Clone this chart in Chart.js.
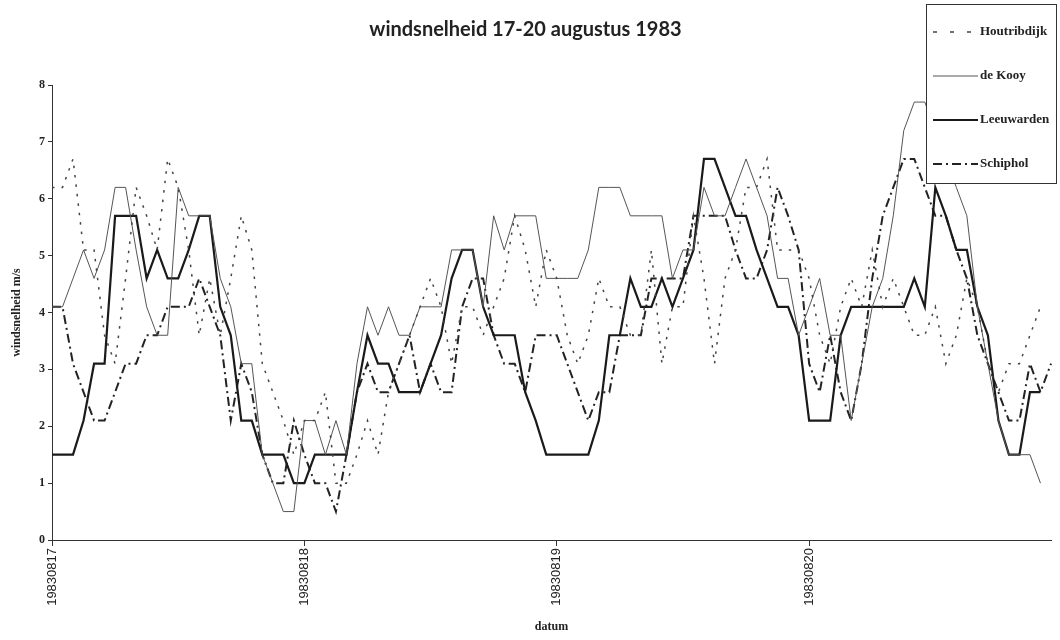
<!DOCTYPE html>
<html>
<head>
<meta charset="utf-8">
<script src="https://cdn.jsdelivr.net/npm/chart.js@4/dist/chart.umd.min.js"></script>
<style>
  html, body { margin: 0; padding: 0; background: #fff; }
  #wrap { width: 1060px; height: 640px; }
</style>
</head>
<body>
<div id="wrap"><canvas id="windChart" width="1060" height="640"></canvas></div>
<script>
// days shown on the x axis, hourly readings per day
const days = ["19830817", "19830818", "19830819", "19830820"];
const hoursOfDay = ["00","01","02","03","04","05","06","07","08","09","10","11",
                    "12","13","14","15","16","17","18","19","20","21","22","23"];
const yTicks = [0, 1, 2, 3, 4, 5, 6, 7, 8];

// wind speed in m/s, one value per hour
const houtribdijk = [
  6.2, 6.2, 6.7, 5.1, 5.1, 3.6, 3.1, 4.6, 6.2, 5.7,
  5.1, 6.7, 6.2, 5.1, 3.6, 4.6, 3.6, 4.6, 5.7, 5.1,
  3.1, 2.6, 2.1, 1.5, 2.1, 2.1, 2.6, 1.0, 1.0, 1.5,
  2.1, 1.5, 2.6, 3.1, 3.6, 4.1, 4.6, 4.1, 3.1, 4.1,
  4.1, 3.6, 4.1, 4.6, 5.7, 5.1, 4.1, 5.1, 4.6, 3.6,
  3.1, 3.6, 4.6, 4.1, 4.1, 3.6, 3.6, 5.1, 3.1, 4.1,
  4.1, 5.7, 4.6, 3.1, 4.6, 5.1, 6.2, 6.2, 6.7, 5.1,
  5.1, 5.1, 4.6, 3.6, 3.1, 4.1, 4.6, 4.1, 5.1, 4.1,
  4.6, 4.1, 3.6, 3.6, 4.1, 3.1, 3.6, 4.6, 4.1, 3.1,
  2.6, 3.1, 3.1, 3.6, 4.1, null
];
const deKooy = [
  4.1, 4.1, 4.6, 5.1, 4.6, 5.1, 6.2, 6.2, 5.1, 4.1,
  3.6, 3.6, 6.2, 5.7, 5.7, 5.7, 4.6, 4.1, 3.1, 3.1,
  1.5, 1.0, 0.5, 0.5, 2.1, 2.1, 1.5, 2.1, 1.5, 3.1,
  4.1, 3.6, 4.1, 3.6, 3.6, 4.1, 4.1, 4.1, 5.1, 5.1,
  5.1, 4.1, 5.7, 5.1, 5.7, 5.7, 5.7, 4.6, 4.6, 4.6,
  4.6, 5.1, 6.2, 6.2, 6.2, 5.7, 5.7, 5.7, 5.7, 4.6,
  5.1, 5.1, 6.2, 5.7, 5.7, 6.2, 6.7, 6.2, 5.7, 4.6,
  4.6, 3.6, 4.1, 4.6, 3.6, 3.6, 2.1, 3.1, 4.1, 4.6,
  5.7, 7.2, 7.7, 7.7, 7.2, 6.7, 6.2, 5.7, 4.1, 3.1,
  2.1, 1.5, 1.5, 1.5, 1.0, null
];
const leeuwarden = [
  1.5, 1.5, 1.5, 2.1, 3.1, 3.1, 5.7, 5.7, 5.7, 4.6,
  5.1, 4.6, 4.6, 5.1, 5.7, 5.7, 4.1, 3.6, 2.1, 2.1,
  1.5, 1.5, 1.5, 1.0, 1.0, 1.5, 1.5, 1.5, 1.5, 2.6,
  3.6, 3.1, 3.1, 2.6, 2.6, 2.6, 3.1, 3.6, 4.6, 5.1,
  5.1, 4.1, 3.6, 3.6, 3.6, 2.6, 2.1, 1.5, 1.5, 1.5,
  1.5, 1.5, 2.1, 3.6, 3.6, 4.6, 4.1, 4.1, 4.6, 4.1,
  4.6, 5.1, 6.7, 6.7, 6.2, 5.7, 5.7, 5.1, 4.6, 4.1,
  4.1, 3.6, 2.1, 2.1, 2.1, 3.6, 4.1, 4.1, 4.1, 4.1,
  4.1, 4.1, 4.6, 4.1, 6.2, 5.7, 5.1, 5.1, 4.1, 3.6,
  2.1, 1.5, 1.5, 2.6, 2.6, null
];
const schiphol = [
  4.1, 4.1, 3.1, 2.6, 2.1, 2.1, 2.6, 3.1, 3.1, 3.6,
  3.6, 4.1, 4.1, 4.1, 4.6, 4.1, 3.6, 2.1, 3.1, 2.6,
  1.5, 1.0, 1.0, 2.1, 1.5, 1.0, 1.0, 0.5, 1.5, 2.6,
  3.1, 2.6, 2.6, 3.1, 3.6, 2.6, 3.1, 2.6, 2.6, 4.1,
  4.6, 4.6, 3.6, 3.1, 3.1, 2.6, 3.6, 3.6, 3.6, 3.1,
  2.6, 2.1, 2.6, 2.6, 3.6, 3.6, 3.6, 4.6, 4.6, 4.6,
  4.6, 5.7, 5.7, 5.7, 5.7, 5.1, 4.6, 4.6, 5.1, 6.2,
  5.7, 5.1, 3.1, 2.6, 3.6, 2.6, 2.1, 3.1, 4.6, 5.7,
  6.2, 6.7, 6.7, 6.2, 5.7, 5.7, 5.1, 4.6, 3.6, 3.1,
  2.6, 2.1, 2.1, 3.1, 2.6, 3.1
];

const hourLabels = days.flatMap(d => hoursOfDay.map(h => d + " " + h));

// boxed legend that sits over the top right corner of the plot
const legendBox = {
  id: "legendBox",
  afterDraw(chart) {
    const ctx = chart.ctx;
    const bx = 926, by = 4, bw = 130, bh = 179;
    ctx.save();
    ctx.fillStyle = "#fff";
    ctx.fillRect(bx, by, bw, bh);
    ctx.strokeStyle = "#333";
    ctx.lineWidth = 1;
    ctx.strokeRect(bx + 0.5, by + 0.5, bw, bh);
    ctx.font = "bold 13px 'Liberation Serif'";
    ctx.textBaseline = "middle";
    chart.data.datasets.forEach((ds, i) => {
      const ly = by + 28 + i * 44;
      ctx.setLineDash(ds.legendDash || ds.borderDash || []);
      ctx.lineWidth = ds.borderWidth;
      ctx.strokeStyle = ds.borderColor;
      ctx.beginPath();
      ctx.moveTo(bx + 7, ly);
      ctx.lineTo(bx + 52, ly);
      ctx.stroke();
      ctx.setLineDash([]);
      ctx.fillStyle = "#222";
      ctx.fillText(ds.label, bx + 54, ly);
    });
    ctx.restore();
  }
};

var ctx = document.getElementById("windChart").getContext("2d");

var windChart = new Chart(ctx, {
  type: "line",
  data: {
    labels: hourLabels,
    datasets: [
      {
        label: "Houtribdijk",
        data: houtribdijk,
        borderColor: "#444",
        borderWidth: 1.5,
        borderDash: [2.5, 7],
        legendDash: [4, 13],
      },
      {
        label: "de Kooy",
        data: deKooy,
        borderColor: "#555",
        borderWidth: 1,
      },
      {
        label: "Leeuwarden",
        data: leeuwarden,
        borderColor: "#1a1a1a",
        borderWidth: 2.2,
      },
      {
        label: "Schiphol",
        data: schiphol,
        borderColor: "#222",
        borderWidth: 2,
        borderDash: [9, 4, 2, 4],
      },
    ],
  },
  options: {
    responsive: false,
    animation: false,
    devicePixelRatio: 1,
    layout: { padding: { left: 0, right: 9, top: 0, bottom: 0 } },
    elements: {
      point: { radius: 0 },
      line: { tension: 0, fill: false },
    },
    plugins: {
      legend: { display: false },
      tooltip: { enabled: false },
      title: {
        display: true,
        text: "windsnelheid 17-20 augustus 1983",
        color: "#222",
        font: { family: "Lato", size: 20, weight: "bold" },
        padding: { top: 18, bottom: 43 },
      },
    },
    scales: {
      x: {
        type: "category",
        offset: false,
        afterFit: (scale) => { scale.height = 100; },
        grid: { drawOnChartArea: false, tickLength: 6, tickColor: "#333" },
        border: { color: "#333", width: 1 },
        ticks: {
          autoSkip: false,
          minRotation: 90,
          maxRotation: 90,
          padding: 2,
          color: "#222",
          font: { family: "Liberation Sans", size: 13 },
          callback: function (value) {
            const lab = this.getLabelForValue(value);
            return lab.endsWith(" 00") ? lab.slice(0, 8) : null;
          },
        },
        title: {
          display: true,
          text: "datum",
          color: "#222",
          font: { family: "Liberation Serif", size: 12, weight: "bold" },
          padding: { top: 0, bottom: 6 },
        },
      },
      y: {
        min: yTicks[0],
        max: yTicks[yTicks.length - 1],
        afterFit: (scale) => { scale.width = 52; },
        afterBuildTicks: (scale) => { scale.ticks = yTicks.map(v => ({ value: v })); },
        grid: { drawOnChartArea: false, tickLength: 4, tickColor: "#333" },
        border: { color: "#333", width: 1 },
        ticks: {
          padding: 3,
          color: "#222",
          font: { family: "Liberation Serif", size: 12, weight: "bold" },
        },
        title: {
          display: true,
          text: "windsnelheid m/s",
          color: "#222",
          font: { family: "Liberation Serif", size: 12, weight: "bold" },
          padding: { top: 10, bottom: 0 },
        },
      },
    },
  },
  plugins: [legendBox],
});
</script>
</body>
</html>
